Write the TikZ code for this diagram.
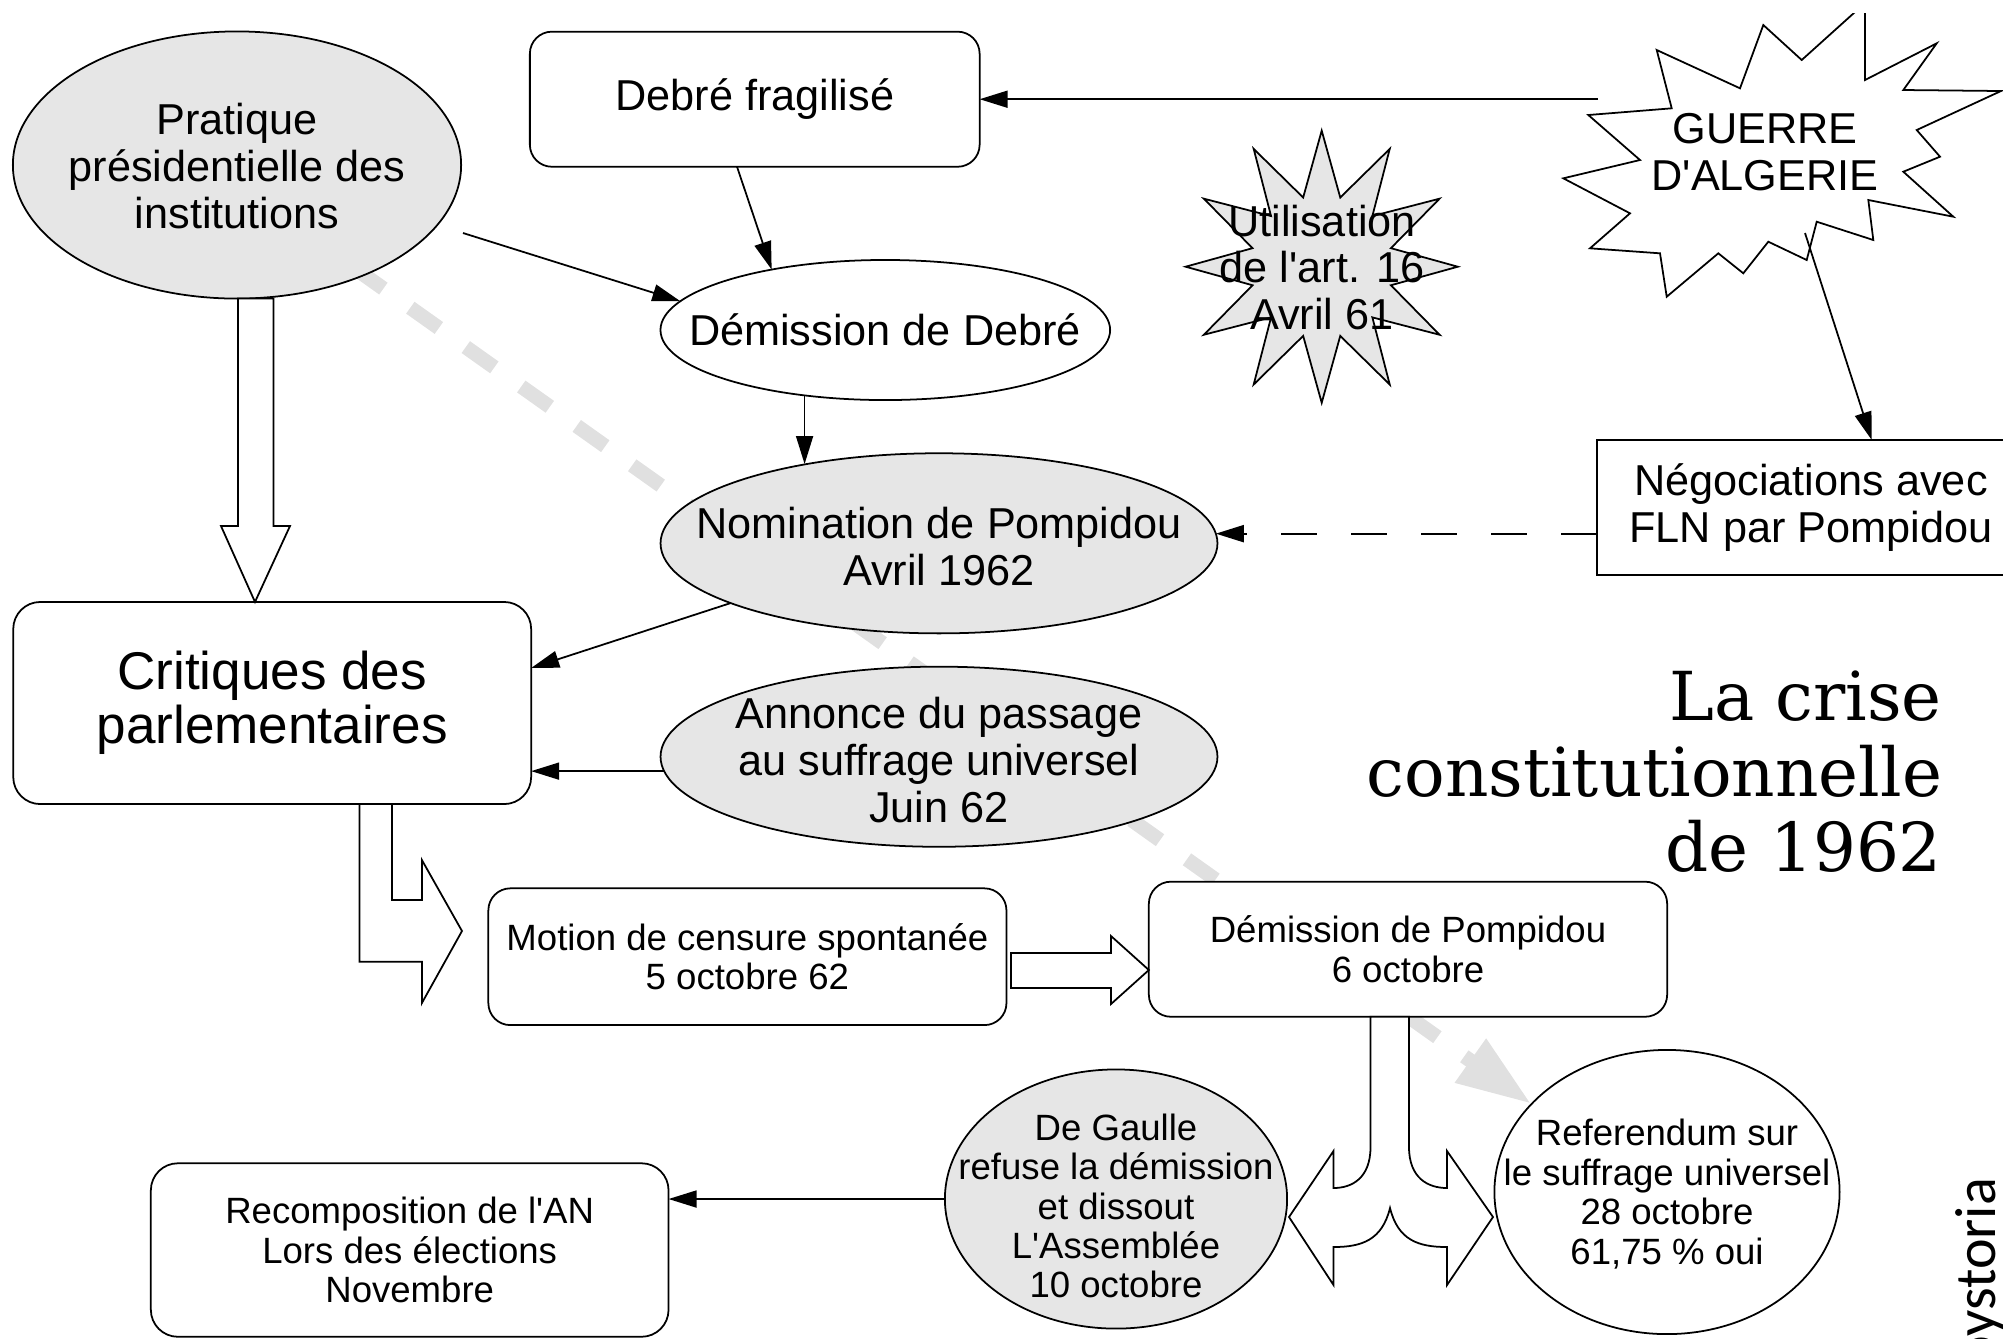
\documentclass[tikz,border=0pt]{standalone}
\usepackage{fontspec}
\setmainfont{Liberation Sans}
\newfontfamily\titlefont{DejaVu Serif}
\newfontfamily\wmfont{Carlito}
\usetikzlibrary{shapes.geometric,arrows.meta,backgrounds,calc}
\definecolor{lgray}{HTML}{E6E6E6}
\definecolor{dgray}{HTML}{E0E0E0}
\newcommand\apos{\textquotesingle}
\begin{document}
\begin{tikzpicture}[x=0.01cm,y=-0.01cm,
  every node/.style={inner sep=0pt, outer sep=0pt},
  bigtxt/.style={align=center, font=\fontsize{12.3}{13.3}\selectfont},
  smalltxt/.style={align=center, font=\fontsize{10.4}{11.2}\selectfont},
  ellgray/.style={ellipse, draw, line width=0.5pt, fill=lgray},
  ellwhite/.style={ellipse, draw, line width=0.5pt, fill=white},
  rbox/.style={rectangle, rounded corners=0.22cm, draw, line width=0.5pt, fill=white},
  arr/.style={line width=0.5pt, -{Triangle[length=2.8mm,width=1.7mm]}},
  dasharr/.style={line width=0.6pt, dash pattern=on 0.36cm off 0.34cm, -{Triangle[length=2.8mm,width=1.7mm]}},
  blk/.style={draw, line width=0.5pt, fill=white, line join=miter},
  bigarrow/.style={line width=0.145cm, draw=dgray, dash pattern=on 0.35cm off 0.33cm, -{Triangle[length=0.75cm,width=0.5cm,fill=dgray]}},
]
\useasboundingbox (0,0) rectangle (2003,1338);
\clip (0,13) rectangle (2003,1338);

% ---------- nodes ----------
\node[ellgray, minimum width=4.48cm, minimum height=2.67cm] (prat) at (237,165) {};
\node[bigtxt] (pratT) at (237,166) {Pratique\\présidentielle des\\institutions};

\node[rbox, minimum width=4.495cm, minimum height=1.35cm, bigtxt] (debre) at (754.75,99.2) {Debré fragilisé};

\node[ellwhite, minimum width=4.494cm, minimum height=1.4cm] (demD) at (885.3,330) {};
\node[bigtxt] (demDT) at (885,330) {Démission de Debré};

\node[star, star points=12, star point ratio=1.9, minimum size=2.72cm, draw, fill=lgray, line width=0.5pt] (art16) at (1321.7,266.7) {};
\node[align=center, font=\fontsize{12.3}{13.1}\selectfont] (art16T) at (1322,267.5) {Utilisation\\de l\apos art. 16\\Avril 61};

\draw[line width=0.5pt, fill=white] (1656.7,50) -- (1740,88.3) -- (1763.3,25) -- (1801.7,60) -- (1865,3) -- (1865,80) -- (1936.7,43.3) -- (1903.3,90) -- (2001,91) -- (1916.7,130) -- (1940,156.7) -- (1903.3,171.7) -- (1953.3,216.7) -- (1868.3,200) -- (1873.3,240) -- (1816.7,221.7) -- (1806.7,260) -- (1768.3,241.7) -- (1743.3,273.3) -- (1718.3,253.3) -- (1666.7,296.7) -- (1660,253.3) -- (1590,248.3) -- (1630,213.3) -- (1563.3,178.3) -- (1640,160) -- (1588.3,115) -- (1671.7,108.3) -- cycle;
\node[bigtxt] (guerre) at (1765,152) {GUERRE\\D\apos ALGERIE};

\node[rectangle, draw, fill=white, line width=0.5pt, minimum width=4.28cm, minimum height=1.35cm, bigtxt] (neg) at (1811,507.5) {Négociations avec\\FLN par Pompidou};

\node[ellgray, minimum width=5.566cm, minimum height=1.8cm] (nom) at (939,543.3) {};
\node[bigtxt] (nomT) at (939,546.7) {Nomination de Pompidou\\Avril 1962};

\node[ellgray, minimum width=5.566cm, minimum height=1.8cm] (ann) at (939,756.7) {};
\node[bigtxt] (annT) at (939,760) {Annonce du passage\\au suffrage universel\\Juin 62};

\node[rbox, rounded corners=0.27cm, minimum width=5.176cm, minimum height=2.02cm, align=center, font=\fontsize{15.1}{15.3}\selectfont] (crit) at (272.2,703) {Critiques des\\parlementaires};

\node[rbox, minimum width=5.178cm, minimum height=1.367cm, smalltxt] (motion) at (747.4,956.7) {Motion de censure spontanée\\5 octobre 62};

\node[rbox, minimum width=5.18cm, minimum height=1.35cm, smalltxt] (demP) at (1408,949.2) {Démission de Pompidou\\6 octobre};

\node[rbox, rounded corners=0.27cm, minimum width=5.174cm, minimum height=1.734cm, smalltxt] (recomp) at (409.7,1250) {Recomposition de l\apos AN\\Lors des élections\\Novembre};

\node[ellgray, minimum width=3.42cm, minimum height=2.59cm] (deg) at (1116,1199) {};
\node[smalltxt] (degT) at (1116,1206) {De Gaulle\\refuse la démission\\et dissout\\L\apos Assemblée\\10 octobre};

\node[ellwhite, minimum width=3.45cm, minimum height=2.84cm] (ref) at (1667,1192) {};
\node[smalltxt] (refT) at (1667,1194) {Referendum sur\\le suffrage universel\\28 octobre\\61,75 \% oui};

\node[anchor=north east, align=right, font=\titlefont\fontsize{19.2}{21.5}\selectfont] (title) at (1942,671) {La crise\\constitutionnelle\\de 1962};

\node[rotate=90, anchor=base east, font=\wmfont\fontsize{16.5}{18}\selectfont] (wm) at (1995,1178) {oystoria};

% ---------- background grey arrow ----------
\coordinate (gs) at (243.9,189.5);
\begin{scope}[on background layer]
\draw[bigarrow] (gs) -- (ref.147);
\end{scope}

% ---------- thin connectors ----------
\coordinate (gstart) at (1598,99.2);
\draw[arr] (gstart) -- (debre.east);
\draw[arr] (737,0 |- debre.south) -- (demD.152);
\coordinate (pstart) at (463,233);
\draw[arr] (pstart) -- (demD.172);
\draw[arr] (demD.219) -- (demD.219 |- nom.149);
\draw[arr] (nom.196) -- (crit.east |- 0,668);
\draw[arr] (ann.183) -- (crit.east |- ann.183);
\coordinate (gstart2) at (1805,233);
\draw[arr] (gstart2) -- (1871.7,0 |- neg.north);
\draw[dasharr] (neg.west |- nom.2) -- (nom.2);
\draw[arr] (deg.west) -- (recomp.east |- deg.west);

% ---------- block arrows ----------
\draw[blk] (238,0 |- prat.south) -- (238,526) -- (221,526) -- (255,0 |- crit.north) -- (290,526) -- (273.6,526) -- (273.6,0 |- prat.south) -- cycle;

\draw[blk] (359.4,0 |- crit.south) -- (359.4,961.7) -- (421.9,961.7) -- (421.9,1003) -- (462,931) -- (421.9,860) -- (421.9,900) -- (392,900) -- (392,0 |- crit.south) -- cycle;

\draw[blk] (1011,953) -- (1111,953) -- (1111,936) -- (demP.west |- 0,970) -- (1111,1004) -- (1111,988) -- (1011,988) -- cycle;

\draw[blk] (1370.5,0 |- demP.south) -- (1370.5,1147) .. controls (1370.5,1178) and (1352,1188) .. (1333.5,1188) -- (1333.5,1151) -- (1289,1217) -- (1333.5,1285) -- (1333.5,1247) .. controls (1362,1247) and (1382,1240) .. (1390,1208) .. controls (1398,1240) and (1418,1247) .. (1447,1247) -- (1447,1285) -- (1493,1217) -- (1447,1151) -- (1447,1188) .. controls (1428,1188) and (1409,1178) .. (1409,1147) -- (1409,0 |- demP.south) -- cycle;
\end{tikzpicture}
\end{document}
